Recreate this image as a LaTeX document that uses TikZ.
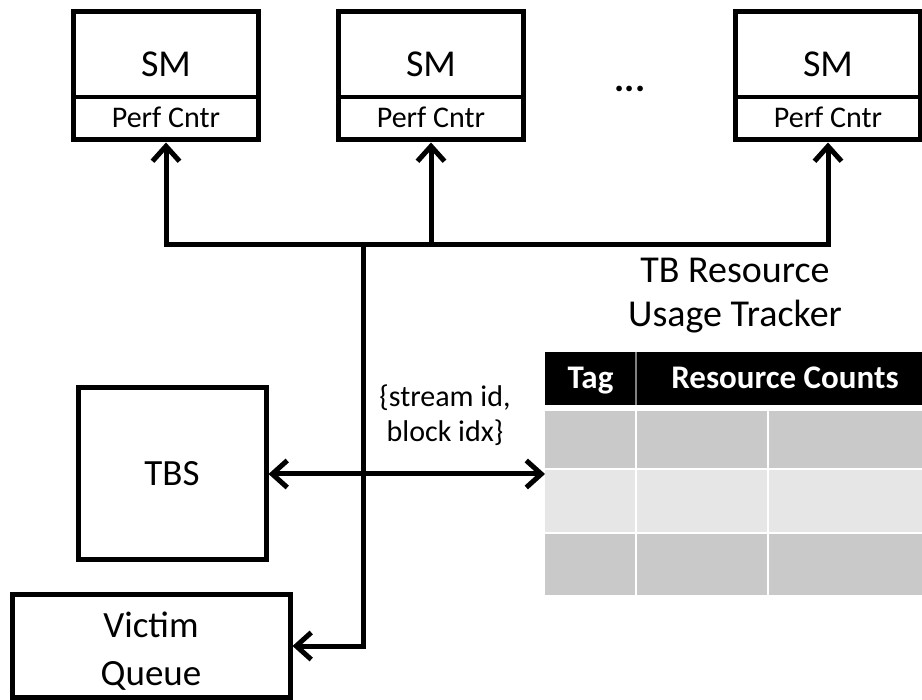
\documentclass[tikz,border=0pt]{standalone}
\usepackage{fontspec}
\setmainfont{Carlito}
\usetikzlibrary{arrows.meta}

\definecolor{cellDark}{RGB}{201,201,201}
\definecolor{cellLight}{RGB}{230,230,230}

\begin{document}
\begin{tikzpicture}[
    x=1pt, y=-1pt,
    >={Straight Barb[length=15pt, width=27pt]},
    box/.style={
        draw, rectangle, line width=5pt, inner sep=0pt,
        align=center, font=\fontsize{37}{48}\selectfont
    },
    smBox/.style={box, minimum width=185pt, minimum height=128pt},
    bigText/.style={inner sep=0pt, align=center, font=\fontsize{38}{44}\selectfont},
    smallText/.style={inner sep=0pt, align=center, font=\fontsize{30}{35}\selectfont},
    wire/.style={line width=5pt},
    cell/.style={rectangle, inner sep=0pt, outer sep=0pt},
    headCell/.style={
        cell, fill=black, text=white, minimum height=53pt,
        text height=21pt, text depth=0pt,
        font=\bfseries\fontsize{33}{40}\selectfont
    },
    darkCell/.style={cell, fill=cellDark},
    lightCell/.style={cell, fill=cellLight}
]
    \fill[white] (0,0) rectangle (922,700);
    \useasboundingbox (0,0) rectangle (922,700);

    % --- 1. SMs with their perf counters ---
    \node[smBox] (sm1) at (166,76) {};
    \node[bigText] (sm1t) at (166,64) {SM};
    \node[smallText] (pc1) at (166,117) {Perf Cntr};
    \draw[line width=3.5pt] (sm1.west |- 0,97) -- (sm1.east |- 0,97);

    \node[smBox] (sm2) at (431,76) {};
    \node[bigText] (sm2t) at (431,64) {SM};
    \node[smallText] (pc2) at (431,117) {Perf Cntr};
    \draw[line width=3.5pt] (sm2.west |- 0,97) -- (sm2.east |- 0,97);

    \node[bigText, font=\bfseries\fontsize{38}{44}\selectfont] (dots) at (630,89) {...};

    \node[smBox] (sm3) at (828,76) {};
    \node[bigText] (sm3t) at (828,64) {SM};
    \node[smallText] (pc3) at (828,117) {Perf Cntr};
    \draw[line width=3.5pt] (sm3.west |- 0,97) -- (sm3.east |- 0,97);

    % --- 2. Scheduler side ---
    \node[box, minimum width=188pt, minimum height=172pt] (tbs) at (172,474) {TBS};
    \node[box, minimum width=278pt, minimum height=102pt] (vq) at (151,646) {};
    \node[box, draw=none, inner sep=0pt] (vqt) at (151,651) {Victim\\Queue};

    % --- 3. Usage tracker table ---
    \node[bigText] (title) at (735,296) {TB Resource\\Usage Tracker};

    \node[headCell, minimum width=91pt] (tagHead) at (590.5,378.5) {Tag};
    \node[headCell, minimum width=298pt] (cntHead) at (785,378.5) {Resource Counts};
    \draw[gray, line width=1.5pt] (tagHead.north east) -- (tagHead.south east);

    \node[darkCell, minimum width=90pt, minimum height=57pt] (r1c1) at (590,439.5) {};
    \node[darkCell, minimum width=130pt, minimum height=57pt] (r1c2) at (702,439.5) {};
    \node[darkCell, minimum width=165pt, minimum height=57pt] (r1c3) at (851.5,439.5) {};

    \node[lightCell, minimum width=90pt, minimum height=62pt] (r2c1) at (590,501) {};
    \node[lightCell, minimum width=130pt, minimum height=62pt] (r2c2) at (702,501) {};
    \node[lightCell, minimum width=165pt, minimum height=62pt] (r2c3) at (851.5,501) {};

    \node[darkCell, minimum width=90pt, minimum height=61pt] (r3c1) at (590,564.5) {};
    \node[darkCell, minimum width=130pt, minimum height=61pt] (r3c2) at (702,564.5) {};
    \node[darkCell, minimum width=165pt, minimum height=61pt] (r3c3) at (851.5,564.5) {};

    % --- 4. Wiring ---
    \coordinate (hub) at (363,245);
    \draw[wire, <->] (sm1.south) -- (sm1.south |- hub) -- (sm3.south |- hub) -- (sm3.south);
    \draw[wire, ->] (sm2.south |- hub) -- (sm2.south);
    \draw[wire, ->] (hub) |- (vq.east);
    \draw[wire, <->] (tbs.east) -- (tbs.east -| r2c1.west);

    \node[smallText] (sid) at (445,415) {\{stream id,\\block idx\}};
\end{tikzpicture}
\end{document}
